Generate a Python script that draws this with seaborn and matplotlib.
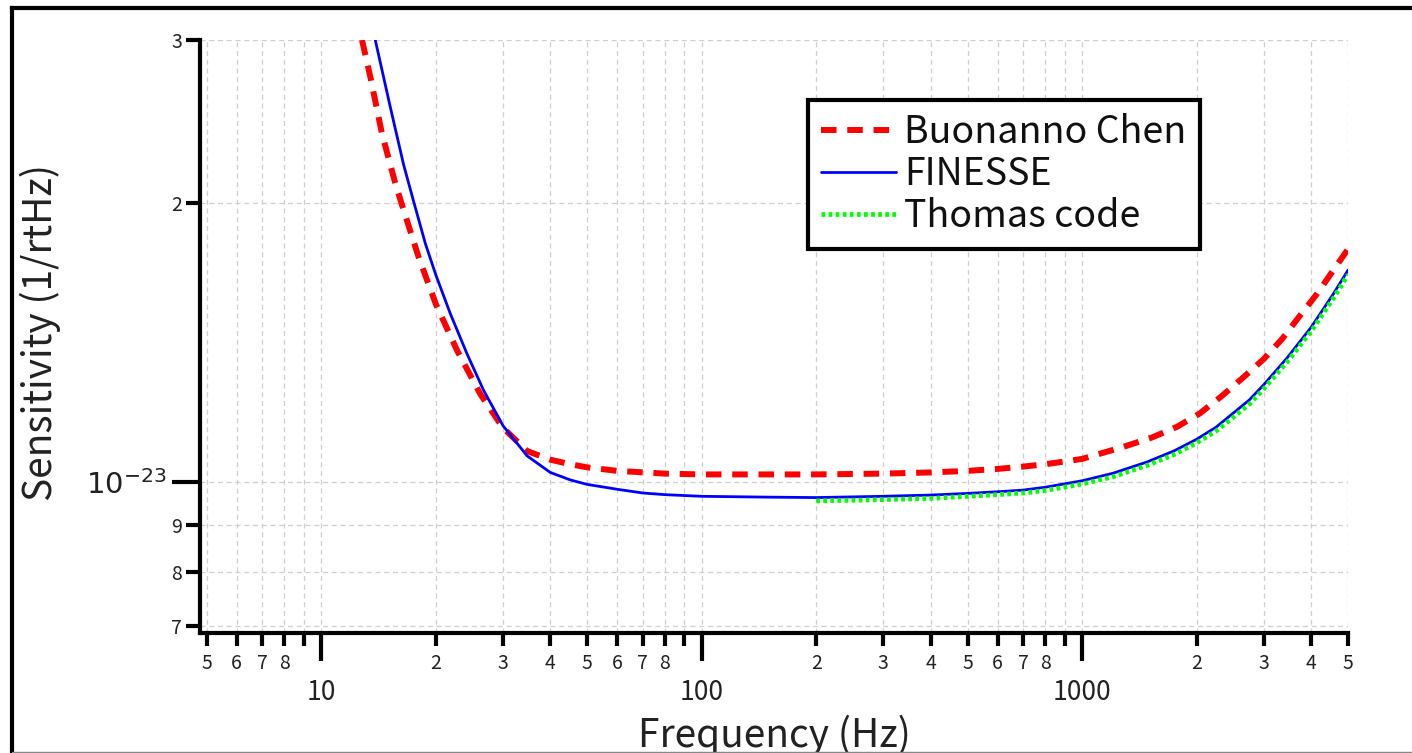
import numpy as np
import pandas as pd
import matplotlib
matplotlib.use("Agg")
import matplotlib.pyplot as plt
import seaborn as sns
from matplotlib.lines import Line2D
from matplotlib.ticker import FixedLocator, FixedFormatter

# ---- data ----
bc_freq = [12.8, 13.46, 14.44, 15.66, 16.47, 18.03, 20, 22.75, 26.2, 30, 34.77, 40, 45.2, 50, 60,
           80, 100, 200, 300, 400, 500, 600, 700, 800, 1000, 1282, 1527, 1776, 2040, 2333, 2648,
           3000, 3356, 3696, 4148, 4567, 5000]
bc_sens = [3.0, 2.738, 2.379, 2.101, 1.966, 1.750, 1.558, 1.388, 1.245, 1.146, 1.081, 1.058,
           1.046, 1.038, 1.029, 1.022, 1.020, 1.020, 1.022, 1.025, 1.029, 1.034, 1.040, 1.046,
           1.060, 1.092, 1.118, 1.148, 1.187, 1.240, 1.297, 1.358, 1.428, 1.504, 1.598, 1.692,
           1.785]

fin_freq = [13.87, 15.19, 16.47, 17.49, 18.78, 20, 21.85, 24.17, 26.74, 30.06, 34.77, 40, 45.2,
            50, 60, 70, 80, 100, 150, 200, 300, 400, 500, 600, 700, 800, 1000, 1206, 1482, 1750,
            2000, 2250, 2449, 2750, 3000, 3457, 4000, 4567, 5000]
fin_sens = [3.0, 2.54, 2.20, 2.01, 1.810, 1.675, 1.520, 1.376, 1.256, 1.151, 1.068, 1.025, 1.006,
            0.995, 0.983, 0.974, 0.970, 0.966, 0.964, 0.963, 0.966, 0.969, 0.973, 0.977, 0.981,
            0.988, 1.004, 1.023, 1.052, 1.082, 1.113, 1.147, 1.180, 1.227, 1.274, 1.362, 1.470,
            1.595, 1.694]

th_freq = [200, 300, 400, 500, 600, 700, 800, 1000, 1206, 1482, 1750, 2000, 2250, 2449, 2750,
           3000, 3457, 4000, 4567, 5000]
th_sens = [0.955, 0.958, 0.961, 0.966, 0.970, 0.974, 0.980, 0.996, 1.014, 1.043, 1.072, 1.103,
           1.136, 1.168, 1.214, 1.261, 1.348, 1.455, 1.578, 1.675]

scale = 1e-23
labels = ["Buonanno Chen", "FINESSE", "Thomas code"]

x_major = [10, 100, 1000]
x_minor = [5, 6, 7, 8, 9, 20, 30, 40, 50, 60, 70, 80, 90, 200, 300, 400, 500, 600, 700, 800, 900,
           2000, 3000, 4000, 5000]
x_minor_labels = ["5", "6", "7", "8", "", "2", "3", "4", "5", "6", "7", "8", "", "2", "3", "4", "5",
                  "6", "7", "8", "", "2", "3", "4", "5"]
y_major = [1e-23]
y_minor = [7e-24, 8e-24, 9e-24, 2e-23, 3e-23]
y_minor_labels = ["7", "8", "9", "2", "3"]

# ---- style ----
sns.set_style("white")
plt.rcParams['font.family'] = ['Noto Sans CJK JP', 'DejaVu Sans']
plt.rcParams['axes.unicode_minus'] = True

fig, ax = plt.subplots(figsize=(14.12, 7.53), dpi=100)
fig.subplots_adjust(left=0.1416, right=0.9547, bottom=0.1594, top=0.9469)

df_bc = pd.DataFrame({"f": bc_freq, "s": np.array(bc_sens) * scale})
df_fin = pd.DataFrame({"f": fin_freq, "s": np.array(fin_sens) * scale})
df_th = pd.DataFrame({"f": th_freq, "s": np.array(th_sens) * scale})

sns.lineplot(data=df_bc, x="f", y="s", ax=ax, color="#ff0000", lw=4.3, label=labels[0],
             linestyle=(0, (2.6, 1.8)), zorder=3)
sns.lineplot(data=df_fin, x="f", y="s", ax=ax, color="#0000ff", lw=2.0, label=labels[1], zorder=4)
sns.lineplot(data=df_th, x="f", y="s", ax=ax, color="#00ff00", lw=3.4, label=labels[2],
             linestyle=(0, (0.8, 0.7)), zorder=5)
for ln in ax.get_lines():
    ln.set_dash_capstyle("butt")
    ln.set_solid_joinstyle("round")

ax.set_xscale("log")
ax.set_yscale("log")
ax.set_xlim(4.8, 5000)
ax.set_ylim(0.688e-23, 3.0e-23)

# ticks
ax.xaxis.set_major_locator(FixedLocator(x_major))
ax.xaxis.set_major_formatter(FixedFormatter([str(v) for v in x_major]))
ax.xaxis.set_minor_locator(FixedLocator(x_minor))
ax.xaxis.set_minor_formatter(FixedFormatter(x_minor_labels))
ax.yaxis.set_major_locator(FixedLocator(y_major))
ax.yaxis.set_major_formatter(FixedFormatter([r"$10^{-23}$"]))
ax.yaxis.set_minor_locator(FixedLocator(y_minor))
ax.yaxis.set_minor_formatter(FixedFormatter(y_minor_labels))

ax.tick_params(axis="x", which="major", length=20, width=3, pad=13, labelsize=19, color="black",
               direction="out", bottom=True)
ax.tick_params(axis="x", which="minor", length=9.5, width=3, pad=5, labelsize=14, color="black",
               direction="out", bottom=True)
ax.tick_params(axis="y", which="major", length=20, width=3, pad=4, labelsize=21, color="black",
               direction="out", left=True)
ax.tick_params(axis="y", which="minor", length=10, width=3, pad=3, labelsize=14, color="black",
               direction="out", left=True)

for lab in ax.get_xticklabels(which="both") + ax.get_yticklabels(which="both"):
    lab.set_color("#222222")

ax.grid(True, which="both", color="#cfcfcf", linestyle=(0, (4, 3)), linewidth=0.9)

for side in ["top", "right"]:
    ax.spines[side].set_visible(False)
for side in ["left", "bottom"]:
    ax.spines[side].set_color("black")
    ax.spines[side].set_linewidth(3)
    ax.spines[side].set_capstyle("projecting")

ax.set_xlabel("Frequency (Hz)", fontsize=28, color="#222222")
ax.set_ylabel("Sensitivity (1/rtHz)", fontsize=28, color="#222222")
ax.xaxis.label.set_va("center")
ax.xaxis.set_label_coords(0.5, -0.172)
ax.yaxis.label.set_va("center")
ax.yaxis.label.set_ha("center")
ax.yaxis.set_label_coords(-0.139, 0.506)

leg = ax.legend(loc="upper left", bbox_to_anchor=(808 / 1412, 1 - 100 / 753),
                bbox_transform=fig.transFigure, borderaxespad=0, fontsize=27,
                frameon=True, fancybox=False, framealpha=1, edgecolor="black",
                handlelength=2.0, handletextpad=0.22, labelspacing=0.08, borderpad=0.35)
leg.get_frame().set_linewidth(3)
for t in leg.get_texts():
    t.set_color("#111111")

# figure frame
fig.add_artist(Line2D([12 / 1412, 12 / 1412], [0, 1 - 8 / 753], transform=fig.transFigure,
                      color="black", lw=3, solid_capstyle="projecting"))
fig.add_artist(Line2D([12 / 1412, 1.0], [1 - 8 / 753, 1 - 8 / 753], transform=fig.transFigure,
                      color="black", lw=3, solid_capstyle="projecting"))
fig.add_artist(Line2D([12 / 1412, 1.0], [0.6 / 753, 0.6 / 753], transform=fig.transFigure,
                      color="#888888", lw=1))

fig.savefig("out.png", dpi=100)
